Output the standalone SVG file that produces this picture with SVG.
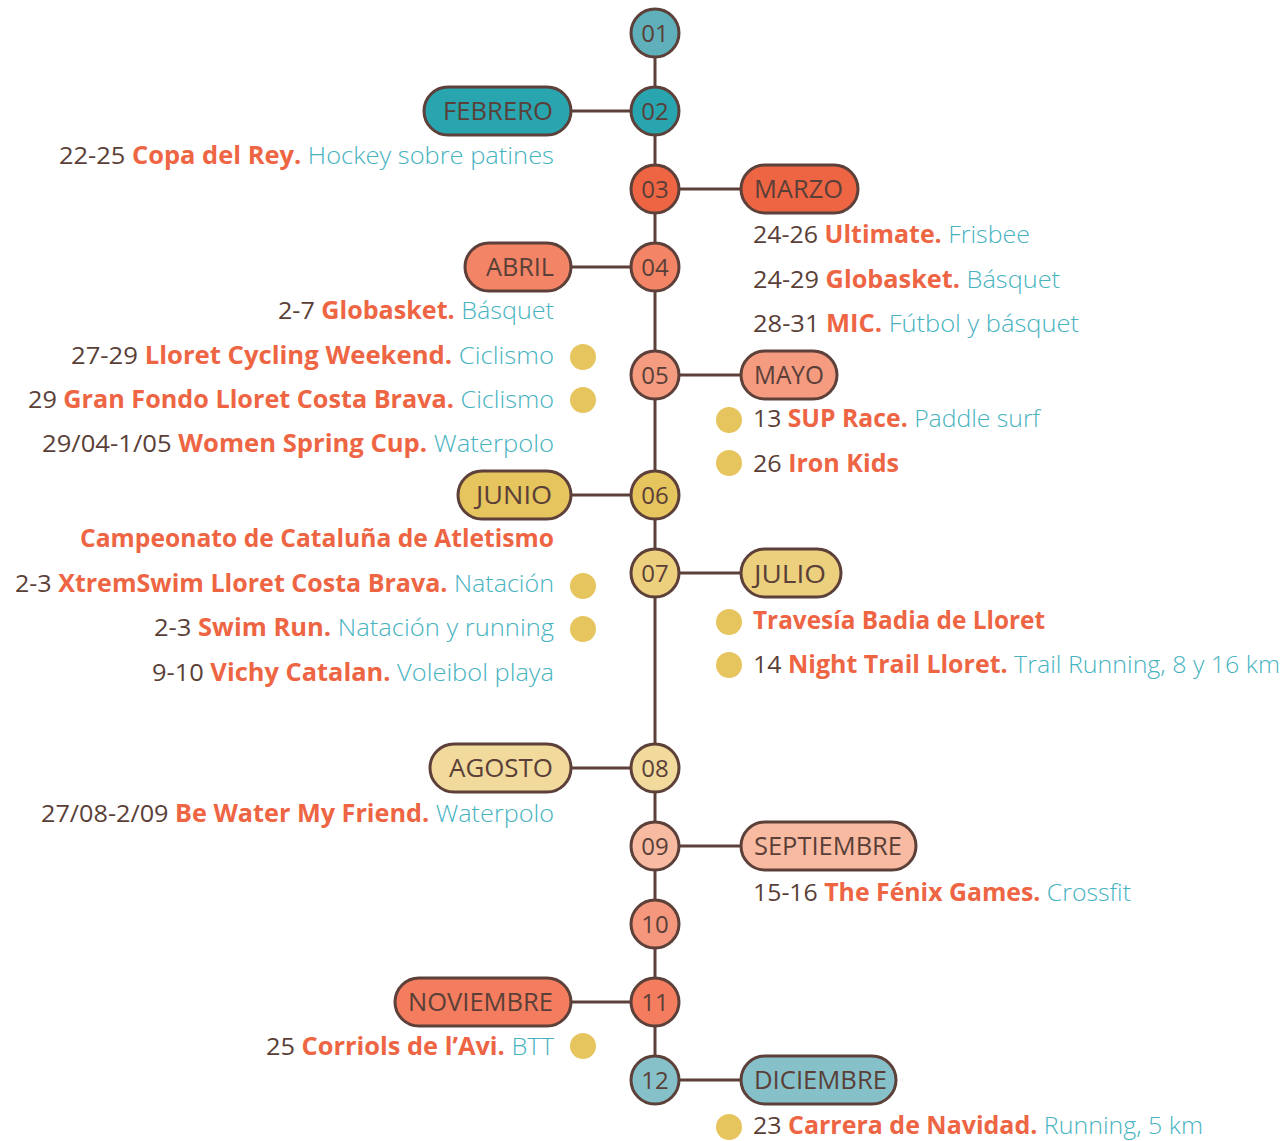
<svg xmlns="http://www.w3.org/2000/svg" width="1287" height="1141" viewBox="0 0 1287 1141">
<style>
text{font-family:"Open Sans",Lato,"Liberation Sans",sans-serif;font-size:24.5px;fill:#5a3f38}
.c{stroke:#5c4039;stroke-width:3}
.p{font-size:26px}
.n{text-anchor:middle;font-size:24px}
.b{font-weight:700;fill:#ee6544}
.t{font-weight:300;fill:#47b3bf}
.dot{fill:#e6c45e}
.ln{stroke:#5c4039;stroke-width:3;fill:none}
</style>
<g id="connectors">
<line class="ln" x1="655" y1="33" x2="655" y2="1080"/>
<line class="ln" x1="571" y1="111" x2="655" y2="111"/>
<line class="ln" x1="655" y1="189" x2="741" y2="189"/>
<line class="ln" x1="571" y1="267" x2="655" y2="267"/>
<line class="ln" x1="655" y1="375" x2="741" y2="375"/>
<line class="ln" x1="571" y1="495" x2="655" y2="495"/>
<line class="ln" x1="655" y1="573" x2="741" y2="573"/>
<line class="ln" x1="571" y1="768" x2="655" y2="768"/>
<line class="ln" x1="655" y1="846" x2="741" y2="846"/>
<line class="ln" x1="571" y1="1002" x2="655" y2="1002"/>
<line class="ln" x1="655" y1="1080" x2="741" y2="1080"/>
</g>
<g id="m01"><circle class="c" cx="655" cy="33" r="24" fill="#5fb0ba"/><text class="n" x="655" y="42">01</text></g>
<g id="m02"><circle class="c" cx="655" cy="111" r="24" fill="#29a5b0"/><text class="n" x="655" y="120">02</text></g>
<g id="m03"><circle class="c" cx="655" cy="189" r="24" fill="#ee6544"/><text class="n" x="655" y="198">03</text></g>
<g id="m04"><circle class="c" cx="655" cy="267" r="24" fill="#f38566"/><text class="n" x="655" y="276">04</text></g>
<g id="m05"><circle class="c" cx="655" cy="375" r="24" fill="#f49b80"/><text class="n" x="655" y="384">05</text></g>
<g id="m06"><circle class="c" cx="655" cy="495" r="24" fill="#e6c45e"/><text class="n" x="655" y="504">06</text></g>
<g id="m07"><circle class="c" cx="655" cy="573" r="24" fill="#edd07e"/><text class="n" x="655" y="582">07</text></g>
<g id="m08"><circle class="c" cx="655" cy="768" r="24" fill="#f2da9c"/><text class="n" x="655" y="777">08</text></g>
<g id="m09"><circle class="c" cx="655" cy="846" r="24" fill="#f8bba2"/><text class="n" x="655" y="855">09</text></g>
<g id="m10"><circle class="c" cx="655" cy="924" r="24" fill="#f5977d"/><text class="n" x="655" y="933">10</text></g>
<g id="m11"><circle class="c" cx="655" cy="1002" r="24" fill="#f37d5e"/><text class="n" x="655" y="1011">11</text></g>
<g id="m12"><circle class="c" cx="655" cy="1080" r="24" fill="#86c1ca"/><text class="n" x="655" y="1089">12</text></g>

<g id="febrero"><rect class="c" x="424" y="87" width="147" height="48" rx="24" fill="#29a5b0"/><text class="p" x="443" y="120" textLength="110" lengthAdjust="spacingAndGlyphs">FEBRERO</text></g>
<g id="marzo"><rect class="c" x="741" y="165" width="117" height="48" rx="24" fill="#ee6544"/><text class="p" x="754" y="198" textLength="89" lengthAdjust="spacingAndGlyphs">MARZO</text></g>
<g id="abril"><rect class="c" x="465" y="243" width="106" height="48" rx="24" fill="#f38566"/><text class="p" x="486" y="276" textLength="68" lengthAdjust="spacingAndGlyphs">ABRIL</text></g>
<g id="mayo"><rect class="c" x="741" y="351" width="96" height="48" rx="24" fill="#f49b80"/><text class="p" x="754" y="384" textLength="70" lengthAdjust="spacingAndGlyphs">MAYO</text></g>
<g id="junio"><rect class="c" x="458" y="471" width="113" height="48" rx="24" fill="#e6c45e"/><text class="p" x="476" y="504" textLength="76" lengthAdjust="spacingAndGlyphs">JUNIO</text></g>
<g id="julio"><rect class="c" x="741" y="549" width="100" height="48" rx="24" fill="#edd07e"/><text class="p" x="754" y="583" textLength="72" lengthAdjust="spacingAndGlyphs">JULIO</text></g>
<g id="agosto"><rect class="c" x="430" y="744" width="141" height="48" rx="24" fill="#f2da9c"/><text class="p" x="449" y="777" textLength="104" lengthAdjust="spacingAndGlyphs">AGOSTO</text></g>
<g id="septiembre"><rect class="c" x="741" y="822" width="175" height="48" rx="24" fill="#f8bba2"/><text class="p" x="754" y="855" textLength="148" lengthAdjust="spacingAndGlyphs">SEPTIEMBRE</text></g>
<g id="noviembre"><rect class="c" x="395" y="978" width="176" height="48" rx="24" fill="#f37d5e"/><text class="p" x="408" y="1011" textLength="145" lengthAdjust="spacingAndGlyphs">NOVIEMBRE</text></g>
<g id="diciembre"><rect class="c" x="741" y="1056" width="155" height="48" rx="24" fill="#86c1ca"/><text class="p" x="754" y="1089" textLength="133" lengthAdjust="spacingAndGlyphs">DICIEMBRE</text></g>

<g id="events-left">
<text x="59" y="164" textLength="495" lengthAdjust="spacingAndGlyphs">22-25 <tspan class="b">Copa del Rey.</tspan> <tspan class="t">Hockey sobre patines</tspan></text>
<text x="278" y="319" textLength="276" lengthAdjust="spacingAndGlyphs">2-7 <tspan class="b">Globasket.</tspan> <tspan class="t">Básquet</tspan></text>
<text x="71" y="364" textLength="483" lengthAdjust="spacingAndGlyphs">27-29 <tspan class="b">Lloret Cycling Weekend.</tspan> <tspan class="t">Ciclismo</tspan></text>
<text x="28" y="408" textLength="526" lengthAdjust="spacingAndGlyphs">29 <tspan class="b">Gran Fondo Lloret Costa Brava.</tspan> <tspan class="t">Ciclismo</tspan></text>
<text x="42" y="452" textLength="512" lengthAdjust="spacingAndGlyphs">29/04-1/05 <tspan class="b">Women Spring Cup.</tspan> <tspan class="t">Waterpolo</tspan></text>
<text class="b" x="80" y="547" textLength="474" lengthAdjust="spacingAndGlyphs">Campeonato de Cataluña de Atletismo</text>
<text x="15" y="592" textLength="539" lengthAdjust="spacingAndGlyphs">2-3 <tspan class="b">XtremSwim Lloret Costa Brava.</tspan> <tspan class="t">Natación</tspan></text>
<text x="154" y="636" textLength="400" lengthAdjust="spacingAndGlyphs">2-3 <tspan class="b">Swim Run.</tspan> <tspan class="t">Natación y running</tspan></text>
<text x="152" y="681" textLength="402" lengthAdjust="spacingAndGlyphs">9-10 <tspan class="b">Vichy Catalan.</tspan> <tspan class="t">Voleibol playa</tspan></text>
<text x="41" y="822" textLength="513" lengthAdjust="spacingAndGlyphs">27/08-2/09 <tspan class="b">Be Water My Friend.</tspan> <tspan class="t">Waterpolo</tspan></text>
<text x="266" y="1055" textLength="288" lengthAdjust="spacingAndGlyphs">25 <tspan class="b">Corriols de l’Avi.</tspan> <tspan class="t">BTT</tspan></text>
<circle class="dot" cx="583" cy="357" r="13"/>
<circle class="dot" cx="583" cy="400" r="13"/>
<circle class="dot" cx="583" cy="586" r="13"/>
<circle class="dot" cx="583" cy="629" r="13"/>
<circle class="dot" cx="583" cy="1046" r="13"/>
</g>
<g id="events-right">
<text x="753" y="243" textLength="277" lengthAdjust="spacingAndGlyphs">24-26 <tspan class="b">Ultimate.</tspan> <tspan class="t">Frisbee</tspan></text>
<text x="753" y="288" textLength="307" lengthAdjust="spacingAndGlyphs">24-29 <tspan class="b">Globasket.</tspan> <tspan class="t">Básquet</tspan></text>
<text x="753" y="332" textLength="326" lengthAdjust="spacingAndGlyphs">28-31 <tspan class="b">MIC.</tspan> <tspan class="t">Fútbol y básquet</tspan></text>
<text x="753" y="427" textLength="287" lengthAdjust="spacingAndGlyphs">13 <tspan class="b">SUP Race.</tspan> <tspan class="t">Paddle surf</tspan></text>
<text x="753" y="472" textLength="146" lengthAdjust="spacingAndGlyphs">26 <tspan class="b">Iron Kids</tspan></text>
<text class="b" x="753" y="629" textLength="292" lengthAdjust="spacingAndGlyphs">Travesía Badia de Lloret</text>
<text x="753" y="673" textLength="527" lengthAdjust="spacingAndGlyphs">14 <tspan class="b">Night Trail Lloret.</tspan> <tspan class="t">Trail Running, 8 y 16 km</tspan></text>
<text x="753" y="901" textLength="378" lengthAdjust="spacingAndGlyphs">15-16 <tspan class="b">The Fénix Games.</tspan> <tspan class="t">Crossfit</tspan></text>
<text x="753" y="1134" textLength="450" lengthAdjust="spacingAndGlyphs">23 <tspan class="b">Carrera de Navidad.</tspan> <tspan class="t">Running, 5 km</tspan></text>
<circle class="dot" cx="729" cy="420" r="13"/>
<circle class="dot" cx="729" cy="463" r="13"/>
<circle class="dot" cx="729" cy="622" r="13"/>
<circle class="dot" cx="729" cy="665" r="13"/>
<circle class="dot" cx="729" cy="1127" r="13"/>
</g>
</svg>
